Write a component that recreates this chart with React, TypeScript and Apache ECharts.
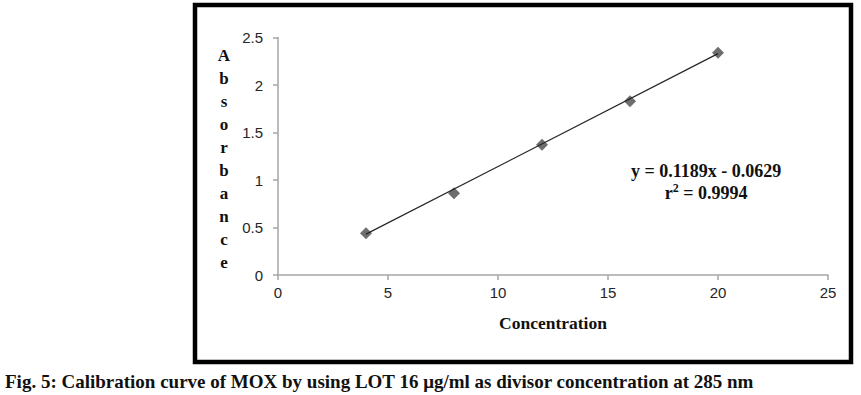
import React, { useEffect, useRef } from "react";
import * as echarts from "echarts";

const concentrations = [4, 8, 12, 16, 20];
const absorbances = [0.44, 0.86, 1.37, 1.83, 2.34];
const trendX = [4, 20];
const trendY = [0.43, 2.33];
const xTicks = [0, 5, 10, 15, 20, 25];
const yTicks = [0, 0.5, 1, 1.5, 2, 2.5];
const yTitleLetters = ["A", "b", "s", "o", "r", "b", "a", "n", "c", "e"];
const xTitle = "Concentration";
const equationLine = "y = 0.1189x - 0.0629";
const r2Value = "0.9994";
const caption =
  "Fig. 5: Calibration curve of MOX by using LOT 16 μg/ml as divisor concentration at 285 nm";

const serif = "'Liberation Serif', 'Times New Roman', serif";
const sans = "'Liberation Sans', Arial, sans-serif";

export default function App() {
  const ref = useRef<HTMLDivElement>(null);

  useEffect(() => {
    if (!ref.current) return;
    const chart = echarts.init(ref.current, undefined, { renderer: "svg" });
    const axisLine = { show: true, lineStyle: { color: "#a6a6a6", width: 1.5 } };
    chart.setOption({
      animation: false,
      backgroundColor: "#ffffff",
      grid: { left: 278, right: 33, top: 37.5, bottom: 120, containLabel: false },
      xAxis: {
        type: "value",
        min: xTicks[0],
        max: xTicks[xTicks.length - 1],
        interval: 5,
        axisLine,
        axisTick: { show: true, length: 5, lineStyle: { color: "#a6a6a6", width: 1.5 } },
        splitLine: { show: false },
        axisLabel: { color: "#262626", fontFamily: sans, fontSize: 15, margin: 10 },
        name: xTitle,
        nameLocation: "middle",
        nameGap: 39,
        nameTextStyle: {
          fontFamily: serif,
          fontWeight: "bold",
          fontSize: 17.5,
          color: "#111111",
        },
      },
      yAxis: {
        type: "value",
        min: yTicks[0],
        max: yTicks[yTicks.length - 1],
        interval: 0.5,
        axisLine,
        axisTick: { show: true, length: 5, lineStyle: { color: "#a6a6a6", width: 1.5 } },
        splitLine: { show: false },
        axisLabel: { color: "#262626", fontFamily: sans, fontSize: 15, margin: 15 },
      },
      series: [
        {
          type: "scatter",
          data: concentrations.map((c, i) => [c, absorbances[i]]),
          symbol: "diamond",
          symbolSize: 12,
          itemStyle: { color: "#4a4a4a" },
          z: 2,
        },
        {
          type: "line",
          data: trendX.map((c, i) => [c, trendY[i]]),
          showSymbol: false,
          symbol: "none",
          lineStyle: { color: "#262626", width: 1.2 },
          z: 3,
        },
      ],
      graphic: [
        {
          type: "rect",
          shape: { x: 195, y: 5, width: 656, height: 357 },
          style: { fill: "none", stroke: "#000000", lineWidth: 4.5 },
          silent: true,
        },
        {
          type: "text",
          x: 224,
          y: 44,
          style: {
            text: yTitleLetters.join("\n"),
            font: `bold 17px ${serif}`,
            fill: "#111111",
            align: "center",
            verticalAlign: "top",
            lineHeight: 23,
          },
        },
        {
          type: "text",
          x: 706,
          y: 171,
          style: {
            text: equationLine,
            font: `bold 18px ${serif}`,
            fill: "#111111",
            align: "center",
            verticalAlign: "middle",
          },
        },
        {
          type: "text",
          x: 706,
          y: 192,
          style: {
            text: `{r|r}{s|2}{r| = ${r2Value}}`,
            align: "center",
            verticalAlign: "middle",
            rich: {
              r: { font: `bold 18px ${serif}`, fill: "#111111", verticalAlign: "bottom" },
              s: { font: `bold 12px ${serif}`, fill: "#111111", verticalAlign: "top", padding: [0, 0, 8, 0] },
            },
          },
        },
        {
          type: "text",
          x: 5,
          y: 381,
          style: {
            text: caption,
            font: `bold 19px ${serif}`,
            fill: "#111111",
            align: "left",
            verticalAlign: "middle",
          },
        },
      ],
    });
    return () => chart.dispose();
  }, []);

  return (
    <div
      ref={ref}
      style={{ position: "absolute", left: 0, top: 0, width: 861, height: 395, background: "#fff" }}
    />
  );
}
